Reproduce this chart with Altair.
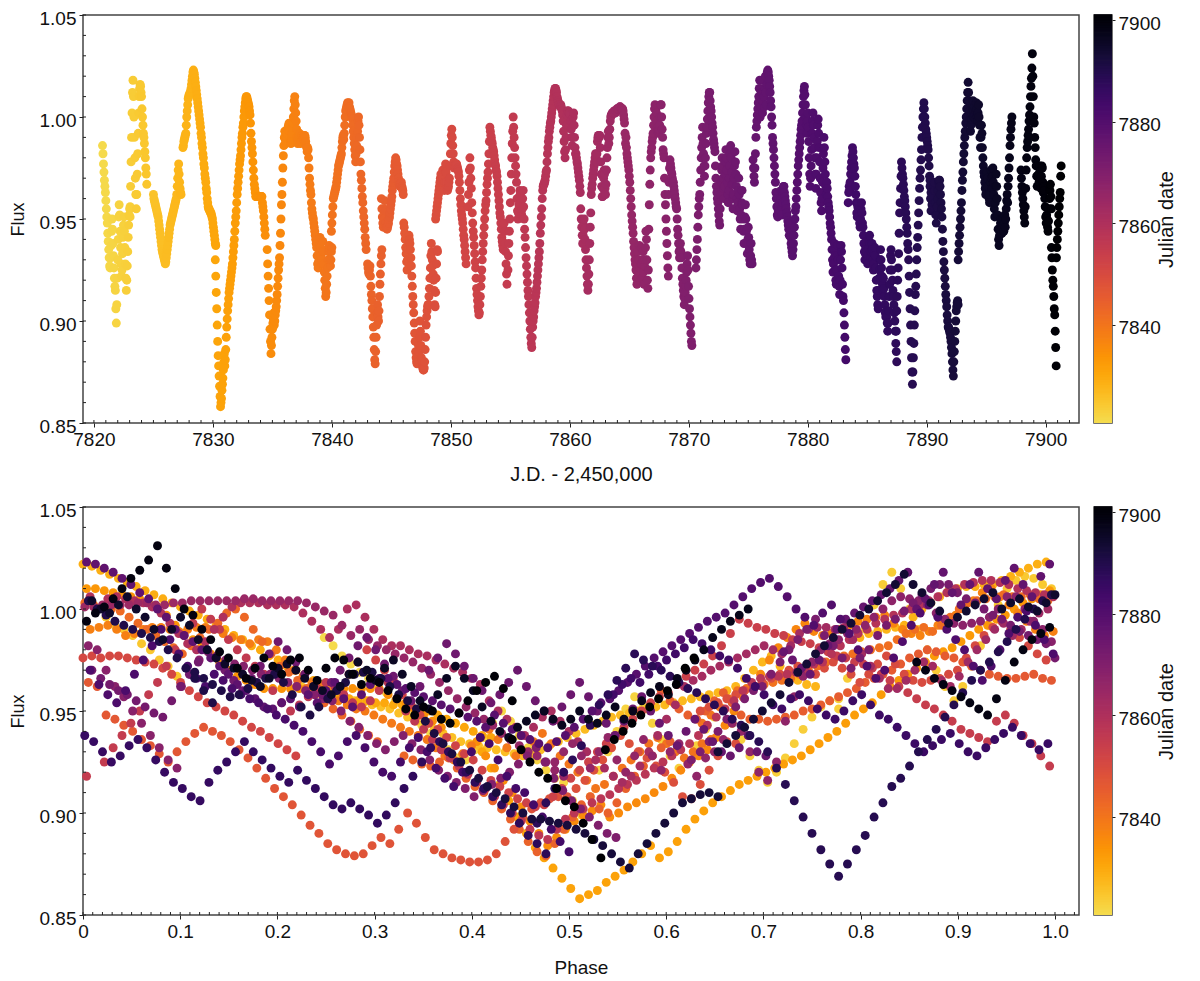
import altair as alt
import numpy as np
import pandas as pd

# flux in thousandths, one reading every 0.04 d; each run starts at START (days after 7800)
CADENCE = 0.04
BASE_DAY = 7800
FOLD_ZERO = 28.4
FOLD_PERIOD = 4.384

r01 = [986,982,977,973,969,966,963,959,955,951,948,943,939,935,931,927,926,931,937,944,950,945,938,932,926,921,917,915,906,899,908,921,930,940,951,957,952,944,936,928,922,925,933,941,947,951,944,936,928,921,915,920,927,934,941,947,952,955,951]
r02 = [956,966,978,990,1002,1012,1018,1010,1000,990,980,970,962,955,962,972,982,992,1002,1010,1014,1016,1015,1012,1010,1004,1000,996,992,990,987,983,980,975,972,967]
r03 = [962,960,959,958,957,956,955,954,953,952,951,949,947,945,943,941,939,937,935,934,933,932,931,930,929,928,929,931,933,935,937,939,941,943,945,947,948,949,950,951,952,953,954,955,956,957,958,959,960,962,966,970,974,977,972,968,965,963,962]
r04 = [985,986,988,989,990,991,992,996,1000,1003,1006,1009,1010,1011,1011,1012,1012,1014,1016,1018,1020,1022,1023,1022,1021,1019,1017,1015,1013,1011,1009,1007,1005,1003,1001,999,997,995,992,990,987,985,982,980,977,975,972,970,968,965,963,960,958,956,955,955,954,954,953,953,952,951,950,948,946,944,942,940,938,937]
r05 = [930,922,914,906,898,890,883,878,873,868,863,858,860,862,866,869,872,876,880,884,878,881,886,892,897,901,905,908,911,914,916,918,920,922,924,926,928,931,934,937,940,944,948,951,954,958,962,965,968,971,974,977,979,981,984,987,990,992,995,997,1000,1003,1005,1007,1009,1010,1010,1009,1008,1007,1006,1005,1003,1001,997,992,988,985,982,978,974,970,967,965,963,961,961,961,961,961,961,961,961,961,961,961,961,961,961,958,956,954,951,948,945,942]
r06 = [935,928,922,916,910,903,896,890,884,888,892,896,899,901,904,898,900,903,905,907,910,913,917,921,925,928,931,937,943,950,957,962,968,975,981,986,990,993,989,987,988,990,992,994,995,996,997,993,990,988,987,989,992,995,997,1000,1004,1008,1010,1006,1002,998,994,990,987,989,990,991,992,990,987,988,990,991,991,990,989,990,991,991,990,988,986,985,983,985,984,980,975,970,967,964,962,958,955,953,951,950,948,946,944,942,940,938,936,932,928,926,929,933,937,941,936,932,928,930,935,939,934,928,924,920,916,912,914,918,922,926,930,934,937,934,930,927,930,934,936]
r07 = [944,948,952,956,960,961,962,963,964,965,966,968,970,972,974,976,977,978,979,980,981,982,985,988,990,991,989,992,996,1000,1003,1004,1005,1006,1007,1006,1006,1007,1005,1004,1003,1002,1001,1000,999,996,993,990,987,984,981,978,982,986,990,993,998,1000,996,990,984,978,972,969,965,961,958,954,951,948,945,941,938,935]
r08 = [928,926,924,923,925,927,922,917,913,910,906,902,897,892,886,881,879,885,892,898,904,908,902,900,905,912,918,923,928,932,935]
r09 = [960,955,951,948,946,950,955,959,954,948,946,946,945,946,947,948,950,951,953,955,957,959,961,964,966,968,970,973,976,978,980,979,977,976,974,972,970,968,967,966,966,967,968,966,965,964,962]
r10 = [948,946,943,940,936,933,929,925,930,935,939,942,940,938,935,931,927,922,917,912,908,904,899,894,890,885,882,880,879,880,884,888,885,892,900,895,888,882,880,878,877,876,876,877,880,886,892,898,902,905,907,908,908,912,916,921,926,932,938,934,930,927,923,920,915,908,907,914,921,928,935,934]
r11 = [950,952,954,956,958,960,962,964,966,968,970,972,970,968,971,974,971,968,964,968,973,977,973,968,965,964,965,966,968,970,976,982,987,991,994,990,986,982,978,975,976,977,976,977,977,976,975,974,973,971,968,964,960,957,954,952,950,948,945,942,940,937,934,931,928]
r12 = [956,962,968,974,980,975,970,965,958,953,948,944,941,937,933,929,926,921,916,913,910,907,905,903,904,908,912,917,921,925,930,934,938,942,946,950,954,957,959,963,967,970,973,977,982,988,995,993,991,990,988,987,985,984,983,981,979,977,976,974,973,971,968,965,962,959,956,953,951,948,945,941,939,937,935,945,948,944,938,934,928,923,918]
r13 = [925,932,938,944,950,958,964,972,980,987,993,1000,995,990,985,980,976,972,968,960,954,950,953,957,961,964,962,958,954,952,955,960,964,956,950,945,941,936,931,927,923,919,915,912,908,904,900,896,892,889,887,892,897,900,902,905,907,909,912,914,916,919,922,925,928,931,934,938,943,947,951,955,960,964,966,967,967,968,969,971,973,974,978,982,985,988,990,993,995,997,998,1000,1002,1004,1006,1008,1010,1012,1013,1014,1014,1013,1012,1010,1009,1008,1007,1006,1006]
r14 = [1005,1006,1005,1004,1003,1001,998,993,988,983,980,984,990,996,1001,1003,1003,1003,1002,1002,1002,1001,998,994,990,986,990,1000,1002,996,990,985,982,982,980,978,977,975,973,971,969,966,963,955,950,946,942,938,942,947,950,945,940,935,930,926,922,918,915,918,923,930,938,946,953,962,965,967,970,972,974,976,978,980,982,980,978,982,988,990,991,991,990,991,985,978,972,966,961,961,965,970,974,972,965,962,967,974,980,985,990,993,987,990,994,998,1000,1001,1001,1002,1002,1002,1002,1003,1003,1002,1002,1003,1003,1004,1004,1004,1004,1004,1004,1005,1005,1004,1004,1004,1004,1004,1003,1001,999,997,992,987,990,985,982,980,978,976,974,971,968,964,960,956,952,949,946,943,939,936,933,930,928,925,921,918]
r15 = [925,930,934,928,922,930,937,926,920,928,936,928,921,930,934,924,918,927,930,936,944,940,930,920,916,925,945,957,967,974,980,983,985,988,990,992,996,1000,1004,1006,1005,1004,1002,998,995,993,992,993,994,996,1000,1006,1006,1000,994,990,984,982,980,970,962,957,950,944,938,932,926,922]
r16 = [962,968,975,979,977,975,973,972,970,968,968,966,964,962,960,958,956,955,950,945,942,938,934,931,935,938,934,931,926,921,918,915,912,908,911,914,917,920,924,928,932,925,917,911,906,902,898,894,890,888]
r17 = [926,930,935,940,946,952,956,960,962,968,974,980,985,990,995,987,982,976,971,976,980,987,992,995,999,1003,1007,1010,1012,1012,1008,1005,1003,1000,997,995,992,989,987,985,983,976,970,966,963,960,958,955,952,949,947,955,962,968,974,980,976,970,965,960,966,972,978,984,980,974,968,962,958,964,970,976,982,986,980,973,967,960,955,962,970,976,983,978,972,966,960,954,958,964,970,962,955,950,945,952,958,964,957,950,944,938,945,951,957,950,944,938,933,940,946,941,935,930,928,932,938,930,928]
r18 = [979,975,971,968,975,982,990,995,998,1001,1004,1007,1010,1014,1018,1000,1005,1012,1018,1008,1002,1012,1018,1010,1005,1014,1020,1012,1006,1016,1022,1023,1022,1020,1018,1015,1012,1008,1005,1000,996,990,987,984,980,976,972,968,963,960,956,952,951,954,956,952,958,954,960,964,956,952,958,963,966,966,963,961,959,957,955,953,951,949,947,945,942,948,944,941,938,936,934,932,935,938,942,946,950,954,956,960,964,968,972,976,979,982,985,988,991,994,996,998,1002,1006,1010,1013,1015,1011,1006,1000,996,992,998,1002,995,988,980,972,966,970,976,984,992,998,1002,996,990,985,980,972,965,972,980,988,996,999,992,985,978,970,963,958,954,960,968,975,982,990,985,978,972,966,962,968,965,961,958,956,954,951,948,946,943,940,935,930,924,928,935,938,932,925,920,918,925,932,937,930,922,917,913,920,930,937,934,926,918,912,910,904,898,892,886,881]
r19 = [958,963,966,964,968,972,975,978,981,985,983,980,977,975,971,966,962,958,953,951,956,958,955,951,948,946,950,955,958,953,948,946,942,938,934,930,933,936,939,934,930,928,932,936,939,942,938,934,931,934,938,935,930,925,928,933,936,932,926,920,915,912,908,906,915,921,925,930,935,930,926,922,918,915,921,916,912,908,904,902,905,902,899,895,899,905,912,918,925,932,935,930,925,920,915,912,908,904,900,895,889,885,880]
r20 = [895,905,912,920,926,933,943,953,958,965,971,978,975,972,970,967,964,961,959,956,953,950,946,943,938,935,930,922,914,906,898,890,882,875,869,875,882,889,898,905,913,917,923,930,936,941,947,953,959,965,970,974,979,984,990,995,1000,1004,1007,1004,1000,997,994,992,990,988,986,984,980,976,971,966,960,954]
r21 = [969,966,963,960,957,958,961,964,966,968,964,958,952,948,952,956,960,964,968,969,969,966,962,958,955,951,945,939,934,929,925,921,917,913,910,907,903,900,897,897,896,895,894,892,890,887,884,880,876,873,880,885,890,895,900,905,907,909,910,908]
r22 = [930,934,938,942,946,950,954,958,964,969,973,978,982,986,990,993,997,1000,1004,1008,1012,1017,1012,1008,1003,999,993,996,999,1002,1005,1008,1000,1003,1005,1001,999,1003,1007,1004,1000,998,1002,1006,1000,996,990,985,990,996,992,985,980,976,973,971,968,965,962,966,971,973,970,966,962,960,958,962,968,974,970,965,971,975,968,962,955,951,958,966,972,966,960,952,945,940,937,942,945,948,950,946,943,946,950,946,944,948,952,946,950,955,959,962,958,966,970,975,980,986,990,994,997,1000]
r23 = [974,970,966,963,960,957,954,951,948,956,965,974,980,985,988,991,994,998,1001,1005,1010,1015,1019,1024,1031,1020,1010,1000,997,990,985,979,976,971,966,971,976,972,968,975,976,970,965,971,976,975,968,963,966,964,960,956,951,948,952,950,946,944,949,955,960,964,967,961,955]
r24 = [936,931,925,920,917,912,906,903,895,887,878]
r25 = [931,936,940,944,948,952,956,960,963,971,976]

runs = [(20.72,r01),(23.04,r02),(25.0,r03),(27.48,r04),(30.2,r05),(34.56,r06),(39.96,r07),(43.0,r08),(44.16,r09),(46.04,r10),(48.72,r11),(51.44,r12),(54.8,r13),(59.2,r14),(65.6,r15),(68.3,r16),(70.6,r17),(75.4,r18),(83.4,r19),(87.44,r20),(90.28,r21),(92.64,r22),(97.92,r23),(100.48,r24),(100.9,r25)]

flux_major = [0.85, 0.90, 0.95, 1.00, 1.05]
flux_minor = [0.86,0.87,0.88,0.89,0.91,0.92,0.93,0.94,0.96,0.97,0.98,0.99,1.01,1.02,1.03,1.04]
time_major = [7820,7830,7840,7850,7860,7870,7880,7890,7900]
time_minor = [d for d in range(7820, 7903)]
phase_major = [0,0.1,0.2,0.3,0.4,0.5,0.6,0.7,0.8,0.9,1.0]
phase_minor = [i/100 for i in range(0, 103)]
bar_ticks = [7840,7860,7880,7900]

rows = []
for start, values in runs:
    for i, v in enumerate(values):
        rows.append((start + i * CADENCE, v / 1000))
df = pd.DataFrame(rows, columns=["t", "flux"])
df["date"] = df["t"] + BASE_DAY
df = df.sort_values("date")
df["phase"] = ((df["t"] - FOLD_ZERO) / FOLD_PERIOD) % 1

FONT = "Liberation Sans"
INK = "#222222"
PW = 996
PH = 408
DATE_DOMAIN = [7820.6, 7901.0]
color_scale = alt.Scale(domain=DATE_DOMAIN, scheme=alt.SchemeParams(name="inferno", extent=[0.91, 0.0]))
flux_scale = alt.Scale(domain=[0.85, 1.05], nice=False, zero=False)


def panel(xfield, xdomain, xmajor, xminor, xtitle, xfmt, title_size, title_pad):
    xs = alt.Scale(domain=xdomain, nice=False, zero=False)
    xaxis = alt.Axis(values=xmajor, title=xtitle, grid=False, domain=False, tickSize=4, tickColor=INK, tickWidth=1,
                     labelFont=FONT, labelFontSize=19, labelColor="#111", titleFont=FONT, titleFontSize=title_size,
                     titleFontWeight="normal", titleColor="#111", labelPadding=3, titlePadding=title_pad, labelExpr=xfmt, labelFlush=False)
    yaxis = alt.Axis(values=flux_major, title="Flux", grid=False, domain=False, tickSize=4, tickColor=INK, tickWidth=1,
                     labelFont=FONT, labelFontSize=19, labelColor="#111", titleFont=FONT, titleFontSize=18,
                     titleFontWeight="normal", titleColor="#111", labelPadding=3, labelOffset=3, titlePadding=12, format=".2f")
    pts = alt.Chart(df).mark_circle(size=80, opacity=1).encode(
        x=alt.X(f"{xfield}:Q", scale=xs, axis=xaxis),
        y=alt.Y("flux:Q", scale=flux_scale, axis=yaxis),
        color=alt.Color("date:Q", scale=color_scale, legend=None),
    )
    xt = alt.Chart(pd.DataFrame({"v": xminor})).mark_rule(color=INK, strokeWidth=1).encode(
        x=alt.X("v:Q", scale=xs, axis=xaxis), y=alt.value(PH - 3), y2=alt.value(PH))
    yt = alt.Chart(pd.DataFrame({"v": flux_minor + flux_major})).mark_rule(color=INK, strokeWidth=1).encode(
        y=alt.Y("v:Q", scale=flux_scale, axis=yaxis), x=alt.value(0), x2=alt.value(3))
    return alt.layer(pts, xt, yt).properties(width=PW, height=PH)


levels = np.linspace(DATE_DOMAIN[0], DATE_DOMAIN[1], 161)
bar_df = pd.DataFrame({"lo": levels[:-1], "hi": levels[1:] + 0.15, "date": levels[:-1]})


def colorbar():
    return alt.Chart(bar_df).mark_rect().encode(
        y=alt.Y("lo:Q", scale=alt.Scale(domain=DATE_DOMAIN, nice=False, zero=False),
                axis=alt.Axis(orient="right", values=bar_ticks, title="Julian date", grid=False, domain=False, tickSize=3,
                              tickColor=INK, labelFont=FONT, labelFontSize=19, labelColor="#111", titleFont=FONT,
                              titleFontSize=20, titleFontWeight="normal", titleColor="#111", titleAngle=270,
                              labelPadding=3, labelOffset=3, titlePadding=16, format="d", labelBaseline="middle")),
        y2="hi:Q",
        x=alt.value(0), x2=alt.value(18),
        color=alt.Color("date:Q", scale=color_scale, legend=None),
    ).properties(width=18, height=PH)


phase_fmt = "datum.value == 0 ? '0' : format(datum.value, '.1f')"
time_fmt = "format(datum.value, 'd')"
top = panel("date", [7819.08, 7902.8], time_major, time_minor, "J.D. - 2,450,000", time_fmt, 20, 15)
bottom = panel("phase", [0, 1.0247], phase_major, phase_minor, "Phase", phase_fmt, 19, 17)

chart = alt.vconcat(
    alt.hconcat(top, colorbar(), spacing=13),
    alt.hconcat(bottom, colorbar(), spacing=13),
    spacing=15,
).resolve_scale(color="shared").properties(
    padding={"left": 0, "top": 0, "right": 0, "bottom": 0}, background="white"
).configure_view(stroke="#444444", strokeWidth=1.5)

chart.save("out.html", embed_options={"renderer": "svg", "actions": False})
